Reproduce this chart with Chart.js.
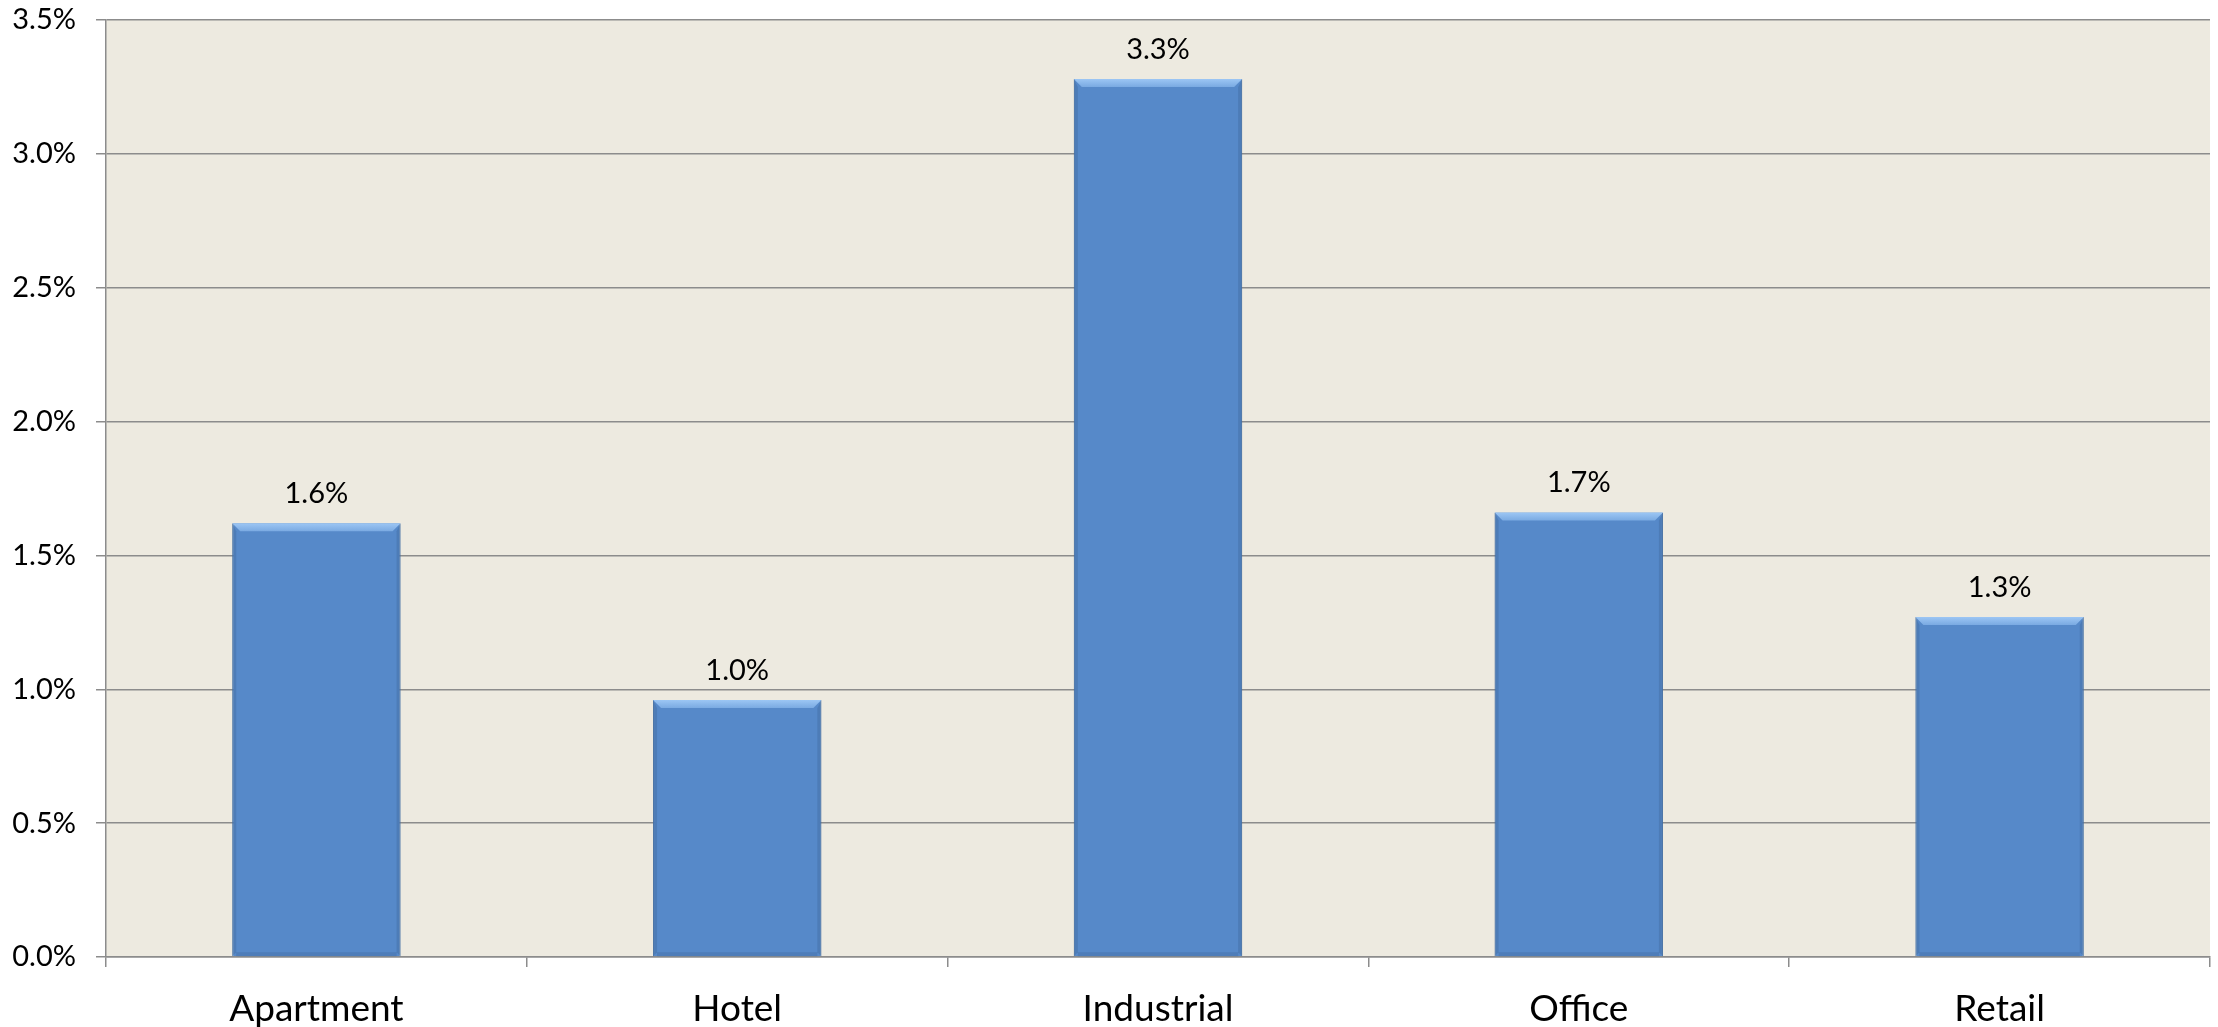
<!DOCTYPE html>
<html>
<head>
<meta charset="utf-8">
<script src="https://cdn.jsdelivr.net/npm/chart.js@4"></script>
<style>
  html, body { margin: 0; padding: 0; background: #ffffff; }
  #wrap { width: 2218px; height: 1027px; }
</style>
</head>
<body>
<div id="wrap"><canvas id="myChartSectors"></canvas></div>
<script>
const categories = ["Apartment", "Hotel", "Industrial", "Office", "Retail"];
const values = [1.62, 0.96, 3.28, 1.66, 1.27];
const yTicks = [0, 0.5, 1.0, 1.5, 2.0, 2.5, 3.0, 3.5];

const plotBackground = {
    id: "plotBackground",
    beforeDraw(chart) {
        const { ctx, chartArea } = chart;
        ctx.save();
        ctx.fillStyle = "#EDEAE0";
        ctx.fillRect(chartArea.left, chartArea.top, chartArea.right - chartArea.left, chartArea.bottom - chartArea.top);
        ctx.restore();
    },
};

// bevel look of the bars + value labels above them
const barDecor = {
    id: "barDecor",
    afterDatasetsDraw(chart) {
        const ctx = chart.ctx;
        const meta = chart.getDatasetMeta(0);
        ctx.save();
        meta.data.forEach((bar, i) => {
            const left = bar.x - bar.width / 2;
            const right = bar.x + bar.width / 2;
            const top = bar.y;
            const bottom = bar.base;
            const b = 8;
            // top highlight
            const g = ctx.createLinearGradient(0, top, 0, top + b);
            g.addColorStop(0, "#9CC6F4");
            g.addColorStop(1, "#7AAAE2");
            ctx.fillStyle = g;
            ctx.beginPath();
            ctx.moveTo(left, top);
            ctx.lineTo(right, top);
            ctx.lineTo(right - b, top + b);
            ctx.lineTo(left + b, top + b);
            ctx.closePath();
            ctx.fill();
            // side shades
            ctx.fillStyle = "rgba(60,100,150,0.35)";
            ctx.beginPath();
            ctx.moveTo(left, top);
            ctx.lineTo(left + 4, top + b);
            ctx.lineTo(left + 4, bottom - 4);
            ctx.lineTo(left, bottom);
            ctx.closePath();
            ctx.fill();
            ctx.beginPath();
            ctx.moveTo(right, top);
            ctx.lineTo(right - 4, top + b);
            ctx.lineTo(right - 4, bottom - 4);
            ctx.lineTo(right, bottom);
            ctx.closePath();
            ctx.fill();
            ctx.fillStyle = "rgba(60,100,150,0.3)";
            ctx.fillRect(left + 4, bottom - 4, bar.width - 8, 4);

            ctx.fillStyle = "#000000";
            ctx.font = "29px Lato";
            ctx.textAlign = "center";
            ctx.textBaseline = "bottom";
            ctx.fillText(values[i].toFixed(1) + "%", bar.x, top - 15);
        });
        ctx.restore();
    },
};

const ctx = document.getElementById("myChartSectors");
const mychar = new Chart(ctx, {
    type: "bar",
    data: {
        labels: categories,
        datasets: [
            {
                data: values,
                backgroundColor: "#5689C9",
                borderColor: "#4A77AE",
                borderWidth: 1,
                barPercentage: 0.4,
                categoryPercentage: 1.0,
            },
        ],
    },
    options: {
        responsive: true,
        maintainAspectRatio: false,
        animation: false,
        layout: { padding: { top: 20, right: 8, left: 0, bottom: 0 } },
        plugins: {
            legend: { display: false },
            tooltip: { enabled: false },
        },
        scales: {
            x: {
                offset: true,
                afterFit(scale) {
                    scale.height = 70;
                    scale.paddingLeft = 0;
                    scale.paddingRight = 0;
                },
                grid: {
                    offset: true,
                    drawOnChartArea: false,
                    drawTicks: true,
                    tickLength: 10,
                    color: "#8C8C8C",
                    lineWidth: 1.5,
                },
                border: { color: "#8C8C8C", width: 1.5 },
                ticks: {
                    color: "#000000",
                    font: { family: "Lato", size: 37 },
                    padding: 20,
                    maxRotation: 0,
                },
            },
            y: {
                min: 0,
                max: 3.5,
                afterFit(scale) {
                    scale.width = 106;
                    scale.paddingTop = 0;
                    scale.paddingBottom = 0;
                },
                afterBuildTicks(scale) {
                    scale.ticks = yTicks.map((v) => ({ value: v }));
                },
                grid: {
                    color: "#8C8C8C",
                    lineWidth: 1.5,
                    tickLength: 10,
                },
                border: { color: "#8C8C8C", width: 1.5 },
                ticks: {
                    color: "#000000",
                    font: { family: "Lato", size: 29 },
                    padding: 20,
                    callback: (v) => Number(v).toFixed(1) + "%",
                },
            },
        },
    },
    plugins: [plotBackground, barDecor],
});
</script>
</body>
</html>
